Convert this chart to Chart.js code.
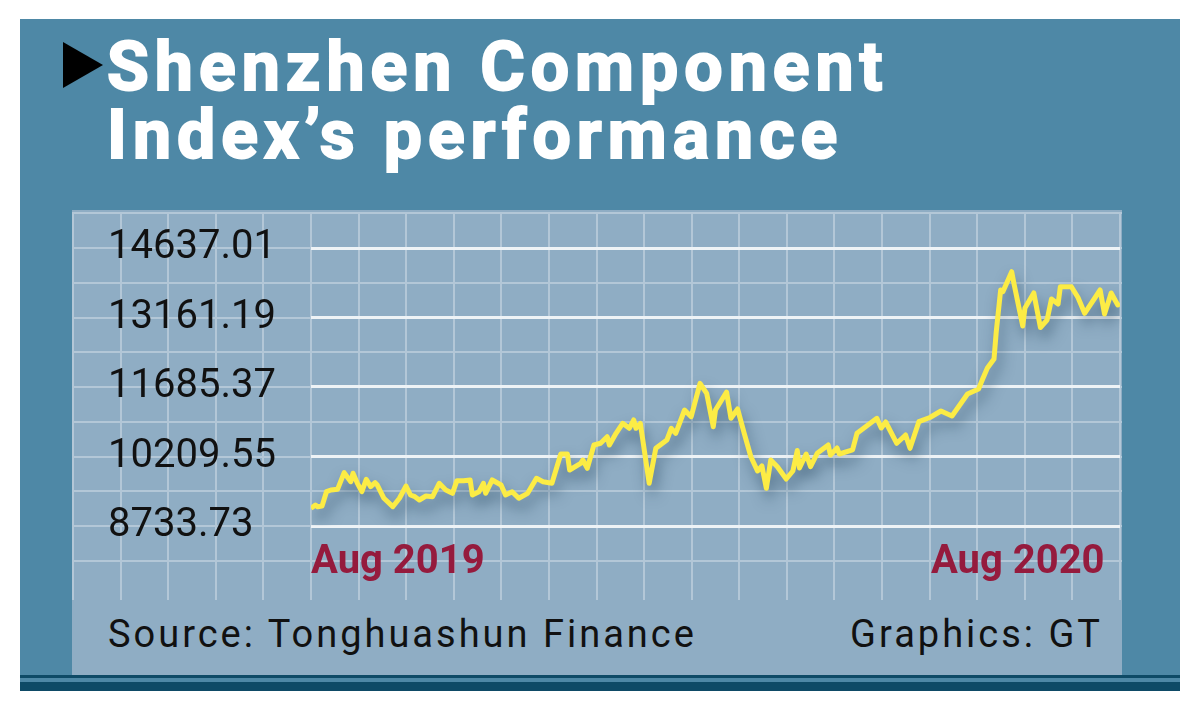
<!DOCTYPE html>
<html>
<head>
<meta charset="utf-8">
<script src="https://cdn.jsdelivr.net/npm/chart.js@4"></script>
<style>
html, body { margin: 0; padding: 0; background: #fff; width: 1200px; height: 720px; overflow: hidden; font-family: Roboto, sans-serif; }
#frame { position: absolute; left: 20px; top: 19px; width: 1160px; height: 672px; background: #4e88a6; }
#panel { position: absolute; left: 72px; top: 210px; width: 1050px; height: 465px; background: #8fadc4; }
#stripe1 { position: absolute; left: 20px; top: 675px; width: 1160px; height: 3px; background: #0e4a66; }
#stripe2 { position: absolute; left: 20px; top: 682px; width: 1160px; height: 9px; background: #0e4a66; }
#arrow { position: absolute; left: 63px; top: 42px; width: 0; height: 0; border-left: 40px solid #000; border-top: 23px solid transparent; border-bottom: 23px solid transparent; }
#title { position: absolute; left: 107px; top: 33px; margin: 0; color: #fff; font: 700 68px/68px Roboto, sans-serif; letter-spacing: 6px; -webkit-text-stroke: 2px #fff; white-space: nowrap; }
.note { position: absolute; top: 615px; margin: 0; font: 400 38px/38px Roboto, sans-serif; letter-spacing: 3px; color: #111; white-space: nowrap; }
#chart { position: absolute; left: 72px; top: 212px; }
</style>
</head>
<body>
<div id="frame"></div>
<div id="panel"></div>
<div id="stripe1"></div>
<div id="stripe2"></div>
<div id="arrow"></div>
<h1 id="title">Shenzhen Component<br>Index’s performance</h1>
<canvas id="chart" width="1050" height="388"></canvas>
<p class="note" style="left:108px">Source: Tonghuashun Finance</p>
<p class="note" style="right:97px">Graphics: GT</p>
<script>
// days since the start of Aug 2019
var xDays = [0, 2, 3, 5, 7, 9, 12, 15, 18, 19, 21, 23, 25, 27, 29, 30, 33, 37, 40, 43,
  45, 47, 49, 52, 55, 58, 61, 64, 66, 69, 72, 73, 76, 78, 79, 82, 86, 88, 91, 94,
  98, 102, 105, 109, 113, 116, 117, 122, 123, 125, 128, 131, 134, 135, 138, 141, 144, 146, 147, 149,
  153, 156, 161, 163, 165, 169, 172, 176, 179, 182, 183, 188, 190, 193, 196, 199, 202, 204, 206, 208,
  211, 215, 218, 220, 221, 224, 226, 229, 234, 235, 238, 239, 245, 247, 256, 258, 260, 265, 269, 271,
  275, 280, 285, 290, 297, 302, 304, 306, 309, 310, 312, 313, 315, 317, 318, 322, 323, 327, 330, 333,
  335, 338, 339, 344, 347, 350, 357, 359, 362, 365, 366];

var indexValues = [9110, 9180, 9144, 9158, 9462, 9498, 9513, 9866, 9674, 9853, 9640, 9462, 9725, 9568, 9653, 9604, 9322, 9144, 9322, 9583,
  9392, 9356, 9286, 9371, 9356, 9640, 9498, 9428, 9696, 9696, 9711, 9392, 9462, 9640, 9428, 9711, 9604, 9392, 9462, 9322,
  9428, 9747, 9674, 9640, 10263, 10263, 9923, 10065, 10135, 9959, 10454, 10490, 10630, 10454, 10702, 10915, 10808, 10985, 10808, 10915,
  9640, 10383, 10560, 10808, 10702, 11197, 11055, 11764, 11552, 10842, 11197, 11579, 11021, 11218, 10702, 10205, 9902, 10008, 9534, 10135,
  9993, 9732, 9902, 10337, 9965, 10263, 9993, 10278, 10454, 10241, 10390, 10263, 10348, 10702, 11021, 10815, 10942, 10490, 10666, 10383,
  10949, 11038, 11176, 11070, 11537, 11643, 11870, 12089, 12280, 12853, 13745, 13709, 13921, 14134, 13887, 12981, 13363, 13682, 12949, 13108,
  13554, 13448, 13815, 13815, 13586, 13250, 13745, 13236, 13682, 13427, 13463];

var yTickValues = [8733.73, 10209.55, 11685.37, 13161.19, 14637.01];
var xTickDays = [0, 359];
var xTickLabels = ['Aug 2019', 'Aug 2020'];

Chart.defaults.font.family = 'Roboto';

// light background grid over the whole panel, half a y step apart
var thin_grid = {
  id: 'thin_grid',
  beforeDraw: function(chart) {
    var ctx = chart.ctx;
    var area = chart.chartArea;
    var ys = chart.scales.y;
    var half = (yTickValues[1] - yTickValues[0]) / 2;
    var colW = (area.right - area.left) / 17;
    ctx.save();
    ctx.strokeStyle = 'rgba(255,255,255,0.32)';
    ctx.lineWidth = 2;
    ctx.beginPath();
    for (let k = -1; k <= 9; k++) {
      var py = Math.round(ys.getPixelForValue(yTickValues[0] + k * half));
      ctx.moveTo(0, py);
      ctx.lineTo(chart.width, py);
    }
    for (let k = -5; k <= 17; k++) {
      var px = Math.round(area.left + k * colW);
      ctx.moveTo(px, 0);
      ctx.lineTo(px, chart.height);
    }
    ctx.stroke();
    ctx.restore();
  }
};

var line_shadow = {
  id: 'line_shadow',
  beforeDatasetsDraw: function(chart) {
    var ctx = chart.ctx;
    ctx.save();
    ctx.shadowColor = 'rgba(35,65,90,0.55)';
    ctx.shadowBlur = 14;
    ctx.shadowOffsetX = 3;
    ctx.shadowOffsetY = 9;
  },
  afterDatasetsDraw: function(chart) {
    chart.ctx.restore();
  }
};

var points = xDays.map(function(d, i) { return {x: d, y: indexValues[i]}; });

new Chart(document.getElementById('chart'), {
  type: 'line',
  data: {
    datasets: [{
      data: points,
      borderColor: '#fcec45',
      borderWidth: 5,
      pointRadius: 0,
      tension: 0,
      borderJoinStyle: 'round',
      fill: false
    }]
  },
  options: {
    responsive: false,
    animation: false,
    devicePixelRatio: 1,
    layout: { padding: { left: 36, top: 36, right: 2, bottom: 0 } },
    plugins: { legend: { display: false }, tooltip: { enabled: false } },
    scales: {
      x: {
        type: 'linear',
        min: 0,
        max: 366,
        grid: { display: false, drawTicks: false },
        border: { display: false },
        afterBuildTicks: function(s) { s.ticks = xTickDays.map(function(v) { return {value: v}; }); },
        afterFit: function(s) { s.height = 74; },
        ticks: {
          autoSkip: false,
          maxRotation: 0,
          align: 'inner',
          padding: 13,
          color: '#951b3d',
          font: { size: 40, weight: 'bold' },
          callback: function(v, i) { return xTickLabels[i]; }
        }
      },
      y: {
        min: yTickValues[0],
        max: yTickValues[yTickValues.length - 1],
        afterBuildTicks: function(s) { s.ticks = yTickValues.map(function(v) { return {value: v}; }); },
        afterFit: function(s) { s.width = 203; },
        grid: { color: '#eef3f6', lineWidth: 3, drawTicks: false },
        border: { display: false },
        ticks: {
          crossAlign: 'far',
          padding: 0,
          color: '#111',
          font: { size: 40 },
          callback: function(v) { return v.toFixed(2); }
        }
      }
    }
  },
  plugins: [thin_grid, line_shadow]
});
</script>
</body>
</html>
